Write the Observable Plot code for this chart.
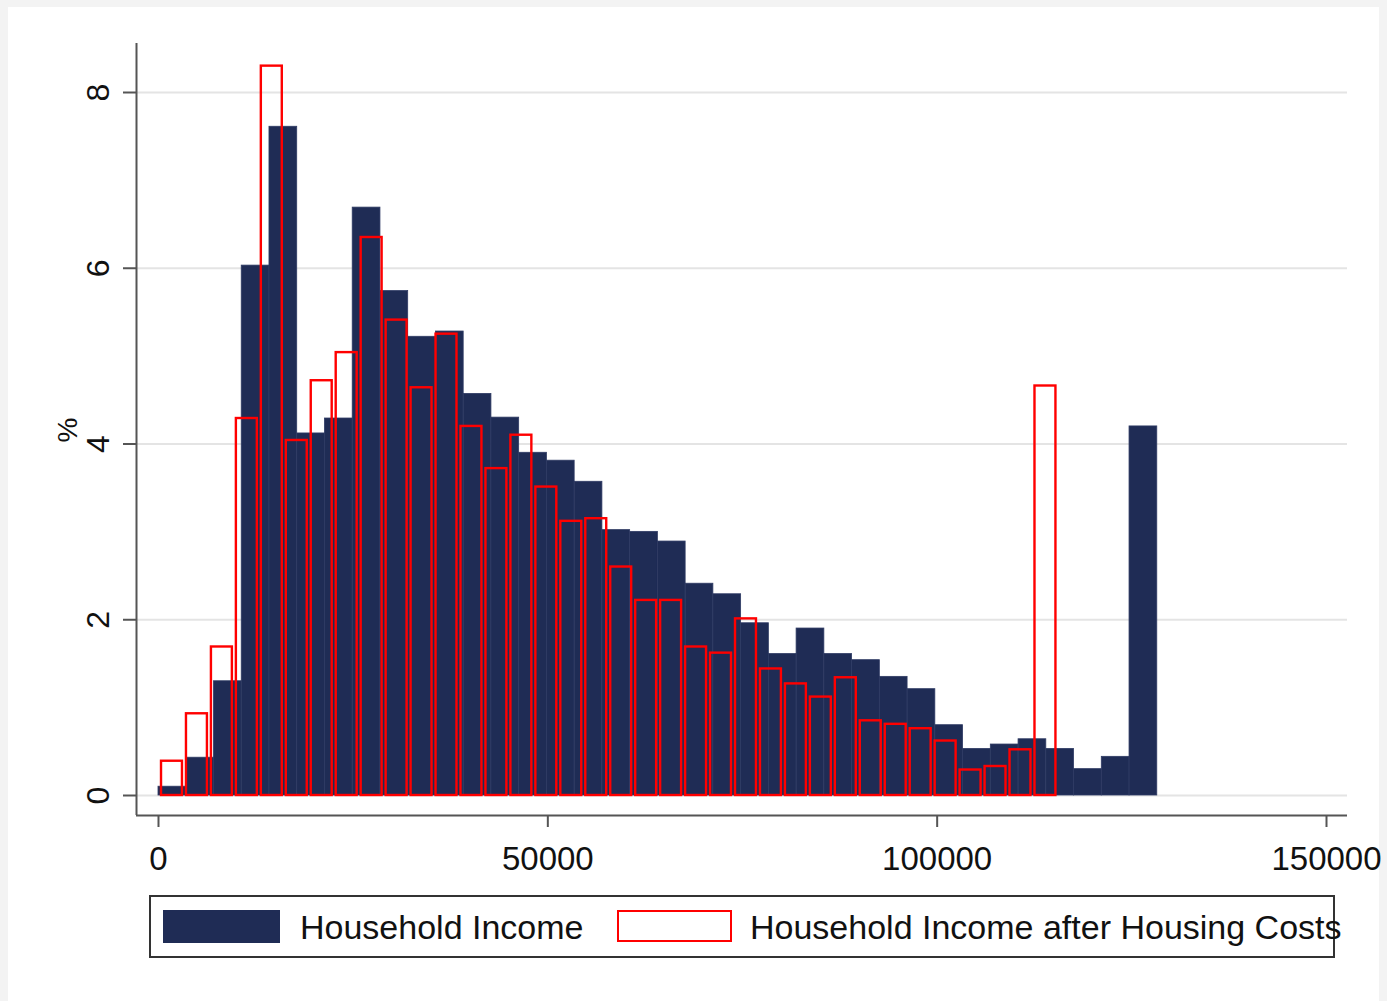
<!DOCTYPE html>
<html>
<head>
<meta charset="utf-8">
<script src="https://cdn.jsdelivr.net/npm/d3@7"></script>
<script src="https://cdn.jsdelivr.net/npm/@observablehq/plot@0.6"></script>
<style>
  html, body { margin: 0; padding: 0; background: #f3f3f3; }
  #page { position: relative; width: 1387px; height: 1001px; overflow: hidden;
          font-family: "Liberation Sans", Arial, Helvetica, sans-serif; }
  #panel { position: absolute; left: 8px; top: 7px; width: 1371px; height: 994px; background: #fff; }
  #chart { position: absolute; left: 0; top: 0; }
  #legend { position: absolute; left: 149px; top: 895px; width: 1186px; height: 63px;
            box-sizing: border-box; border: 2px solid #333; }
  .sw { position: absolute; box-sizing: border-box; }
  .lbl { position: absolute; font-size: 34px; line-height: 34px; color: #111; white-space: nowrap; }
</style>
</head>
<body>
<div id="page">
  <div id="panel"></div>
  <div id="chart"></div>
</div>
<script>
// Histogram of household income, before and after housing costs (% of households per bin)
const householdIncome = [
  0.10, 0.43, 1.30, 6.03, 7.61, 4.12, 4.29, 6.69, 5.74, 5.22,
  5.28, 4.57, 4.30, 3.90, 3.81, 3.57, 3.02, 3.00, 2.89, 2.41,
  2.29, 1.96, 1.61, 1.90, 1.61, 1.54, 1.35, 1.21, 0.80, 0.53,
  0.58, 0.64, 0.53, 0.30, 0.44, 4.20
];
const afterHousingCosts = [
  0.39, 0.93, 1.69, 4.29, 8.30, 4.04, 4.72, 5.04, 6.35, 5.41,
  4.64, 5.25, 4.20, 3.72, 4.10, 3.51, 3.12, 3.15, 2.60, 2.22,
  2.22, 1.69, 1.62, 2.01, 1.44, 1.27, 1.12, 1.34, 0.85, 0.81,
  0.76, 0.62, 0.29, 0.33, 0.52, 4.66
];
// bin layout of each histogram (income units)
const incomeBins = {start: 0, width: 3563};
const ahcBins = {start: 130, width: 3205};

const xTicks = [0, 50000, 100000, 150000];
const yTicks = [0, 2, 4, 6, 8];
const xDomain = [-2825, 152697];
const yDomain = [-0.2276, 8.5576];

const seriesNames = ["Household Income", "Household Income after Housing Costs"];
const navy = "#1f2c55";
const red = "#ff0000";

const toBins = (values, bins) => values.map((pct, i) => ({
  x1: bins.start + i * bins.width,
  x2: bins.start + (i + 1) * bins.width,
  pct
}));
const incomeRows = toBins(householdIncome, incomeBins);
const ahcRows = toBins(afterHousingCosts, ahcBins);

const chart = Plot.plot({
  width: 1387,
  height: 885,
  marginLeft: 136,
  marginRight: 40,
  marginTop: 43,
  marginBottom: 70,
  style: {background: "transparent", fontFamily: "'Liberation Sans', Arial, Helvetica, sans-serif"},
  x: {domain: xDomain},
  y: {domain: yDomain},
  marks: [
    Plot.gridY(yTicks, {stroke: "#e4e4e4", strokeOpacity: 1, strokeWidth: 2}),
    Plot.rect(incomeRows, {x1: "x1", x2: "x2", y1: 0, y2: "pct", fill: navy, stroke: "#2f3b64", strokeWidth: 0.8}),
    Plot.rect(ahcRows, {x1: "x1", x2: "x2", y1: 0, y2: "pct", fill: "none", stroke: red,
                        strokeWidth: 2.4, insetLeft: 2, insetRight: 2}),
    Plot.ruleY([yDomain[0]], {stroke: "#555", strokeWidth: 2}),
    Plot.ruleX([xDomain[0]], {stroke: "#555", strokeWidth: 2}),
    Plot.axisX(xTicks, {tickSize: 12, tickPadding: 19, fontSize: 33, tickFormat: d => String(d),
                        stroke: "#555", strokeWidth: 2, fill: "#111", label: null}),
    Plot.axisY(yTicks, {tickSize: 13, tickPadding: 15, tickRotate: -90, fontSize: 32, tickFormat: d => String(d),
                        stroke: "#555", strokeWidth: 2, fill: "#111", label: null}),
    Plot.text(["%"], {frameAnchor: "left", rotate: -90, dx: -68, dy: 13, fontSize: 28, fill: "#111"})
  ]
});
document.getElementById("chart").appendChild(chart);

// Legend beneath the plot area
const legend = document.createElement("div");
legend.id = "legend";
const items = [
  {left: 12, w: 117, h: 33, style: `background:${navy};`, textLeft: 149},
  {left: 466, w: 115, h: 32, style: `border:2px solid ${red};`, textLeft: 599}
];
items.forEach((it, i) => {
  const sw = document.createElement("div");
  sw.className = "sw";
  sw.style.cssText = `left:${it.left}px;top:13px;width:${it.w}px;height:${it.h}px;${it.style}`;
  legend.appendChild(sw);
  const lbl = document.createElement("div");
  lbl.className = "lbl";
  lbl.style.left = it.textLeft + "px";
  lbl.style.top = "13px";
  lbl.textContent = seriesNames[i];
  legend.appendChild(lbl);
});
document.getElementById("page").appendChild(legend);
</script>
</body>
</html>
